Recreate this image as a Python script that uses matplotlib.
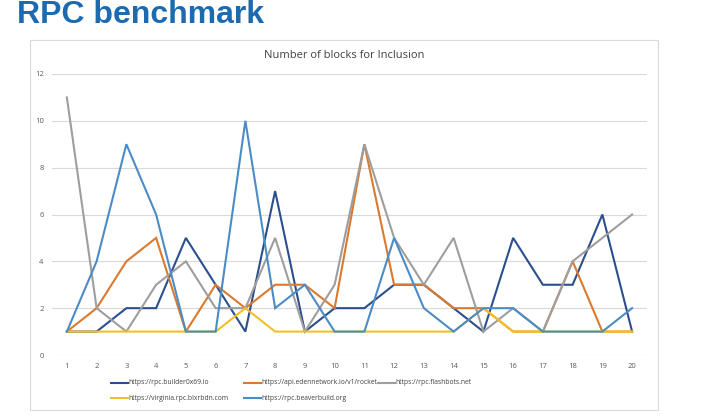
import matplotlib
matplotlib.use("Agg")
import matplotlib.pyplot as plt
from matplotlib.patches import Rectangle
from matplotlib.lines import Line2D

runs = list(range(1, 21))
series_names = [
    "https://rpc.builder0x69.io",
    "https://api.edennetwork.io/v1/rocket",
    "https://rpc.flashbots.net",
    "https://virginia.rpc.blxrbdn.com",
    "https://rpc.beaverbuild.org",
]
builder0x69 = [1, 1, 2, 2, 5, 3, 1, 7, 1, 2, 2, 3, 3, 2, 1, 5, 3, 3, 6, 1]
edennetwork = [1, 2, 4, 5, 1, 3, 2, 3, 3, 2, 9, 3, 3, 2, 2, 1, 1, 4, 1, 1]
flashbots = [11, 2, 1, 3, 4, 2, 2, 5, 1, 3, 9, 5, 3, 5, 1, 2, 1, 4, 5, 6]
blxrbdn = [1, 1, 1, 1, 1, 1, 2, 1, 1, 1, 1, 1, 1, 1, 2, 1, 1, 1, 1, 1]
beaverbuild = [1, 4, 9, 6, 1, 1, 10, 2, 3, 1, 1, 5, 2, 1, 2, 2, 1, 1, 1, 2]
y_ticks = [0, 2, 4, 6, 8, 10, 12]

colors = ["#2B4F8E", "#DB7A2E", "#9E9E9E", "#F2C024", "#4B8CC6"]
all_series = [builder0x69, edennetwork, flashbots, blxrbdn, beaverbuild]

W, H = 720, 420
fig = plt.figure(figsize=(7.2, 4.2), dpi=100)
fig.patch.set_facecolor("white")

# chart frame
fig.patches.append(Rectangle((30 / W, 1 - 410 / H), 628 / W, 370 / H,
                             transform=fig.transFigure, fill=False,
                             edgecolor="#D9D9D9", linewidth=0.8))

fig.text(17 / W, 1 - 15 / H, "RPC benchmark", fontsize=23, fontweight="bold",
         color="#1C6BB0", family="Liberation Sans", va="center", ha="left")

fig.text(344 / W, 1 - 55 / H, "Number of blocks for Inclusion", fontsize=8,
         color="#404040", family="Open Sans", va="center", ha="center")

ax = fig.add_axes([52 / W, 1 - 355 / H, (647 - 52) / W, (355 - 74) / H])
for i, (vals, c) in enumerate(zip(all_series, colors)):
    ax.plot(runs, vals, color=c, linewidth=1.5, zorder=3 + i,
            solid_joinstyle="miter", label=series_names[i])

ax.set_xlim(0.5, 20.5)
ax.set_ylim(0, 12)
ax.set_yticks(y_ticks)
ax.set_xticks(runs)
ax.set_xticklabels([str(r) for r in runs])
ax.grid(axis="y", color="#D9D9D9", linewidth=0.8, zorder=0)
ax.set_axisbelow(True)
for s in ax.spines.values():
    s.set_visible(False)
ax.tick_params(length=0, labelsize=5.5, colors="#595959", pad=6)
for lab in ax.get_xticklabels() + ax.get_yticklabels():
    lab.set_family("Open Sans")

# legend entries (manually placed in Excel-like grid)
leg_pos = [(111, 383), (244, 383), (378, 383), (111, 398), (244, 398)]
for (px, py), name, c in zip(leg_pos, series_names, colors):
    fig.add_artist(Line2D([px / W, (px + 17) / W], [1 - py / H, 1 - py / H],
                          transform=fig.transFigure, color=c, linewidth=1.5))
    fig.text((px + 17) / W, 1 - py / H, name, fontsize=4.9, color="#404040",
             family="Open Sans", va="center", ha="left")

fig.savefig("out.png", dpi=100, facecolor="white")
